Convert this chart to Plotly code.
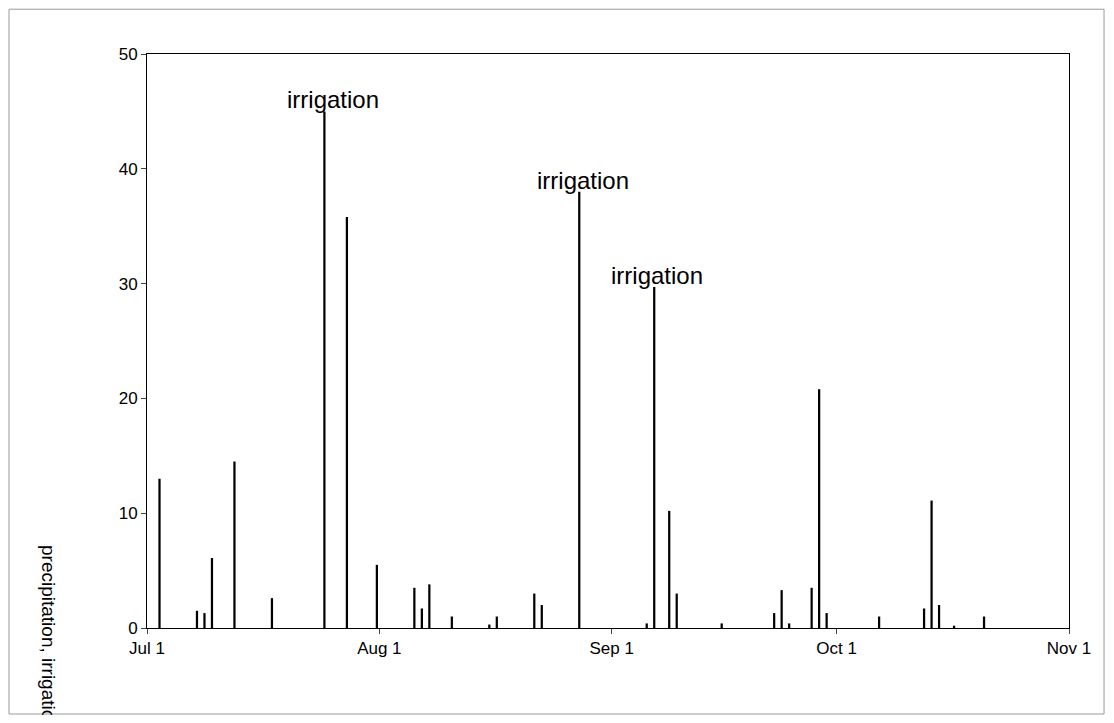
import pandas as pd
import plotly.graph_objects as go

# day offsets from Jul 1 and amounts (mm)
day_offsets = [1, 6, 7, 8, 11, 16, 23, 26, 30, 35, 36, 37, 40, 45, 46, 51, 52, 57,
               66, 67, 69, 70, 76, 83, 84, 85, 88, 89, 90, 97, 103, 104, 105, 107, 111]
amounts = [13.0, 1.5, 1.3, 6.1, 14.5, 2.6, 45.0, 35.8, 5.5, 3.5, 1.7, 3.8, 1.0, 0.3, 1.0, 3.0, 2.0, 38.0,
           0.4, 29.7, 10.2, 3.0, 0.4, 1.3, 3.3, 0.4, 3.5, 20.8, 1.3, 1.0, 1.7, 11.1, 2.0, 0.2, 1.0]
irrigation_days = [23, 57, 67]
tick_dates = ["2000-07-01", "2000-08-01", "2000-09-01", "2000-10-01", "2000-11-01"]
tick_labels = ["Jul 1", "Aug 1", "Sep 1", "Oct 1", "Nov 1"]

start = pd.Timestamp("2000-07-01")
dates = [start + pd.Timedelta(days=d, hours=16) for d in day_offsets]

fig = go.Figure(go.Bar(x=dates, y=amounts, width=0.3 * 86400000,
                       marker=dict(color="black", line=dict(width=0))))

shifts = [9, 4, 3]
for d, s in zip(irrigation_days, shifts):
    i = day_offsets.index(d)
    fig.add_annotation(x=dates[i], y=amounts[i], text="irrigation", showarrow=False,
                       yanchor="bottom", xshift=s, yshift=-4, font=dict(size=24, color="black"))

fig.add_annotation(text="precipitation, irrigation", textangle=90, xref="paper", yref="paper",
                   x=-98 / 922, y=-10 / 574, showarrow=False, xanchor="center", yanchor="middle",
                   font=dict(size=19, color="black"))

fig.add_shape(type="rect", xref="paper", yref="paper", x0=-138 / 922, x1=1.038,
              y0=-86 / 574, y1=1.078, line=dict(color="#999999", width=1))

fig.update_layout(
    width=1098, height=707, margin=dict(l=139, r=37, t=46, b=87),
    paper_bgcolor="white", plot_bgcolor="white", showlegend=False,
    font=dict(family="Liberation Sans", size=17, color="black"),
    xaxis=dict(range=["2000-07-01", "2000-11-01"], tickvals=tick_dates, ticktext=tick_labels,
               ticks="outside", ticklen=5, showline=True, linecolor="black", mirror=True,
               showgrid=False, zeroline=False),
    yaxis=dict(range=[0, 50], dtick=10, ticks="outside", ticklen=5, showline=True,
               linecolor="black", mirror=True, showgrid=False, zeroline=False),
)

fig.write_html("out.html")
